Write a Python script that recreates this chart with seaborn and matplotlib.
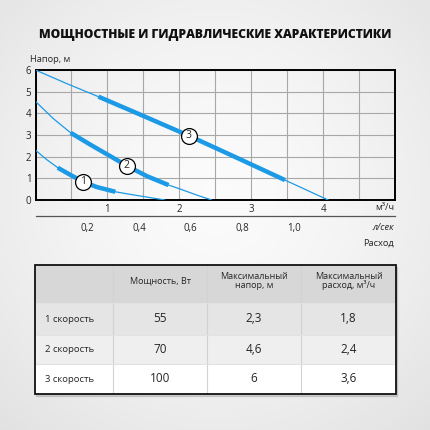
import numpy as np
import pandas as pd
import matplotlib.pyplot as plt
from matplotlib.patches import Rectangle
import seaborn as sns

# pump curves: flow (m3/h) vs head (m)
q1 = [0.0, 0.15, 0.31, 0.5, 0.66, 0.85, 1.11, 1.3, 1.5, 1.65, 1.8]
h1 = [2.3, 1.88, 1.49, 1.13, 0.85, 0.6, 0.38, 0.27, 0.16, 0.08, 0.0]
q2 = [0.0, 0.25, 0.49, 0.75, 1.0, 1.27, 1.55, 1.85, 2.0, 2.25, 2.45]
h2 = [4.55, 3.75, 3.1, 2.58, 2.1, 1.58, 1.1, 0.69, 0.52, 0.22, 0.0]
q3 = [0.0, 0.45, 0.875, 1.5, 2.13, 2.8, 3.47, 4.07]
h3 = [6.0, 5.35, 4.77, 3.88, 2.97, 1.95, 0.92, 0.0]
# recommended working range (thick part) per speed
work1 = (0.31, 1.11)
work2 = (0.49, 1.85)
work3 = (0.875, 3.47)
# label circle positions
lab_q = [0.66, 1.27, 2.13]
lab_h = [0.85, 1.58, 2.97]

ls_ticks = [0.2, 0.4, 0.6, 0.8, 1.0]
ls_labels = ["0,2", "0,4", "0,6", "0,8", "1,0"]

tbl_header = ["", "Мощность, Вт", "Максимальный\nнапор, м", "Максимальный\nрасход, м³/ч"]
speeds = ["1 скорость", "2 скорость", "3 скорость"]
power = ["55", "70", "100"]
max_head = ["2,3", "4,6", "6"]
max_flow = ["1,8", "2,4", "3,6"]

BLUE = "#1c9ae6"
W = 430.0

sns.set_style("white")
plt.rcParams["font.family"] = ["Open Sans", "DejaVu Sans"]


def box(l, t, r, b):
    return [l / W, 1 - b / W, (r - l) / W, (b - t) / W]


fig = plt.figure(figsize=(4.3, 4.3), dpi=100)

# soft radial background, light grey at the corners
bg = fig.add_axes([0, 0, 1, 1], zorder=-5)
yy, xx = np.mgrid[-1:1:200j, -1:1:200j]
rr = np.sqrt(xx ** 2 + (yy + 0.1) ** 2)
shade = np.clip(0.985 - 0.055 * rr ** 1.5, 0, 1)
bg.imshow(np.dstack([shade] * 3), extent=[0, 1, 0, 1], aspect="auto")
bg.axis("off")

fig.text(215 / W, 1 - 35 / W, "МОЩНОСТНЫЕ И ГИДРАВЛИЧЕСКИЕ ХАРАКТЕРИСТИКИ",
         ha="center", va="center", fontsize=8.7, fontweight="heavy", color="#111111")

# ---- chart ----
ax = fig.add_axes(box(35.5, 70, 395, 200))
ax.set_facecolor("none")
curves = [(q1, h1, work1), (q2, h2, work2), (q3, h3, work3)]
for q, h, (a, b) in curves:
    df = pd.DataFrame({"q": q, "h": h})
    sns.lineplot(data=df, x="q", y="h", ax=ax, color=BLUE, lw=0.9,
                 estimator=None, sort=False, zorder=3)
    seg = df[(df.q >= a - 1e-9) & (df.q <= b + 1e-9)]
    sns.lineplot(data=seg, x="q", y="h", ax=ax, color=BLUE, lw=3.2,
                 estimator=None, sort=False, zorder=4, solid_capstyle="butt")

sns.scatterplot(x=lab_q, y=lab_h, ax=ax, s=130, color="white", edgecolor="black",
                linewidth=0.9, zorder=6, clip_on=False)
for i, (x, y) in enumerate(zip(lab_q, lab_h)):
    ax.text(x, y, str(i + 1), ha="center", va="center", fontsize=7.5, zorder=7)

ax.set_xlim(0, 5)
ax.set_ylim(0, 6)
ax.set_xticks(np.arange(0, 5.01, 0.5))
ax.set_xticklabels(["", "", "1", "", "2", "", "3", "", "4", "", ""])
ax.set_yticks(range(7))
ax.set_yticklabels([str(v) for v in range(7)])
ax.grid(True, color="#a8a8a8", lw=0.8)
ax.tick_params(length=0, labelsize=7, pad=3)
for s in ax.spines.values():
    s.set_color("black")
    s.set_linewidth(1.4)
ax.set_xlabel("")
ax.set_ylabel("")

fig.text(30 / W, 1 - 59 / W, "Напор, м", ha="left", va="center", fontsize=6.7)
fig.text(394 / W, 1 - 208 / W, "м³/ч", ha="right", va="center", fontsize=6.7)

# second flow scale in l/s
ax2 = fig.add_axes(box(35.5, 206, 395, 216))
ax2.set_facecolor("none")
ax2.set_xlim(0, 5 / 3.6)
ax2.set_yticks([])
ax2.set_xticks(ls_ticks)
ax2.set_xticklabels(ls_labels)
for k in ["top", "left", "right"]:
    ax2.spines[k].set_visible(False)
ax2.spines["bottom"].set_color("#555555")
ax2.spines["bottom"].set_linewidth(0.9)
ax2.tick_params(axis="x", length=3, color="#bbbbbb", labelsize=7, pad=2, direction="out")

fig.text(394 / W, 1 - 228 / W, "л/сек", ha="right", va="center", fontsize=6.7, style="italic")
fig.text(394 / W, 1 - 243 / W, "Расход", ha="right", va="center", fontsize=6.7)

# ---- table ----
tx = fig.add_axes([0, 0, 1, 1], zorder=2)
tx.set_xlim(0, W)
tx.set_ylim(W, 0)
tx.axis("off")
col_x = [35, 113, 207, 301, 396]
row_y = [265, 303, 335, 364, 394]
row_bg = ["#d7d7d7", "#e5e5e5", "#efefef", "#ffffff"]
rows = [tbl_header] + [[speeds[i], power[i], max_head[i], max_flow[i]] for i in range(3)]
tx.add_patch(Rectangle((36, 266.5), 361, 129, color="#888888", alpha=0.3, zorder=0))
for r in range(4):
    y0, y1 = row_y[r], row_y[r + 1]
    tx.add_patch(Rectangle((col_x[0], y0), col_x[-1] - col_x[0], y1 - y0,
                           facecolor=row_bg[r], edgecolor="none", zorder=1))
    for c in range(4):
        x0, x1 = col_x[c], col_x[c + 1]
        txt = rows[r][c]
        if r == 0:
            tx.text((x0 + x1) / 2, (y0 + y1) / 2 - 3, txt, ha="center", va="center",
                    fontsize=6.5, linespacing=0.95, zorder=3)
        elif c == 0:
            tx.text(x0 + 10, (y0 + y1) / 2, txt, ha="left", va="center", fontsize=6.8, zorder=3)
        else:
            tx.text((x0 + x1) / 2, (y0 + y1) / 2, txt, ha="center", va="center", fontsize=8.5, zorder=3)
for x in col_x[1:-1]:
    tx.plot([x, x], [row_y[0], row_y[-1]], color="#d2d2d2", lw=0.8, zorder=2)
for y in row_y[1:-1]:
    tx.plot([col_x[0], col_x[-1]], [y, y], color="#e2e2e2", lw=0.8, zorder=2)
tx.add_patch(Rectangle((col_x[0], row_y[0]), col_x[-1] - col_x[0], row_y[-1] - row_y[0],
                       facecolor="none", edgecolor="#111111", lw=1.3, zorder=4))

fig.savefig("out.png", dpi=100)
